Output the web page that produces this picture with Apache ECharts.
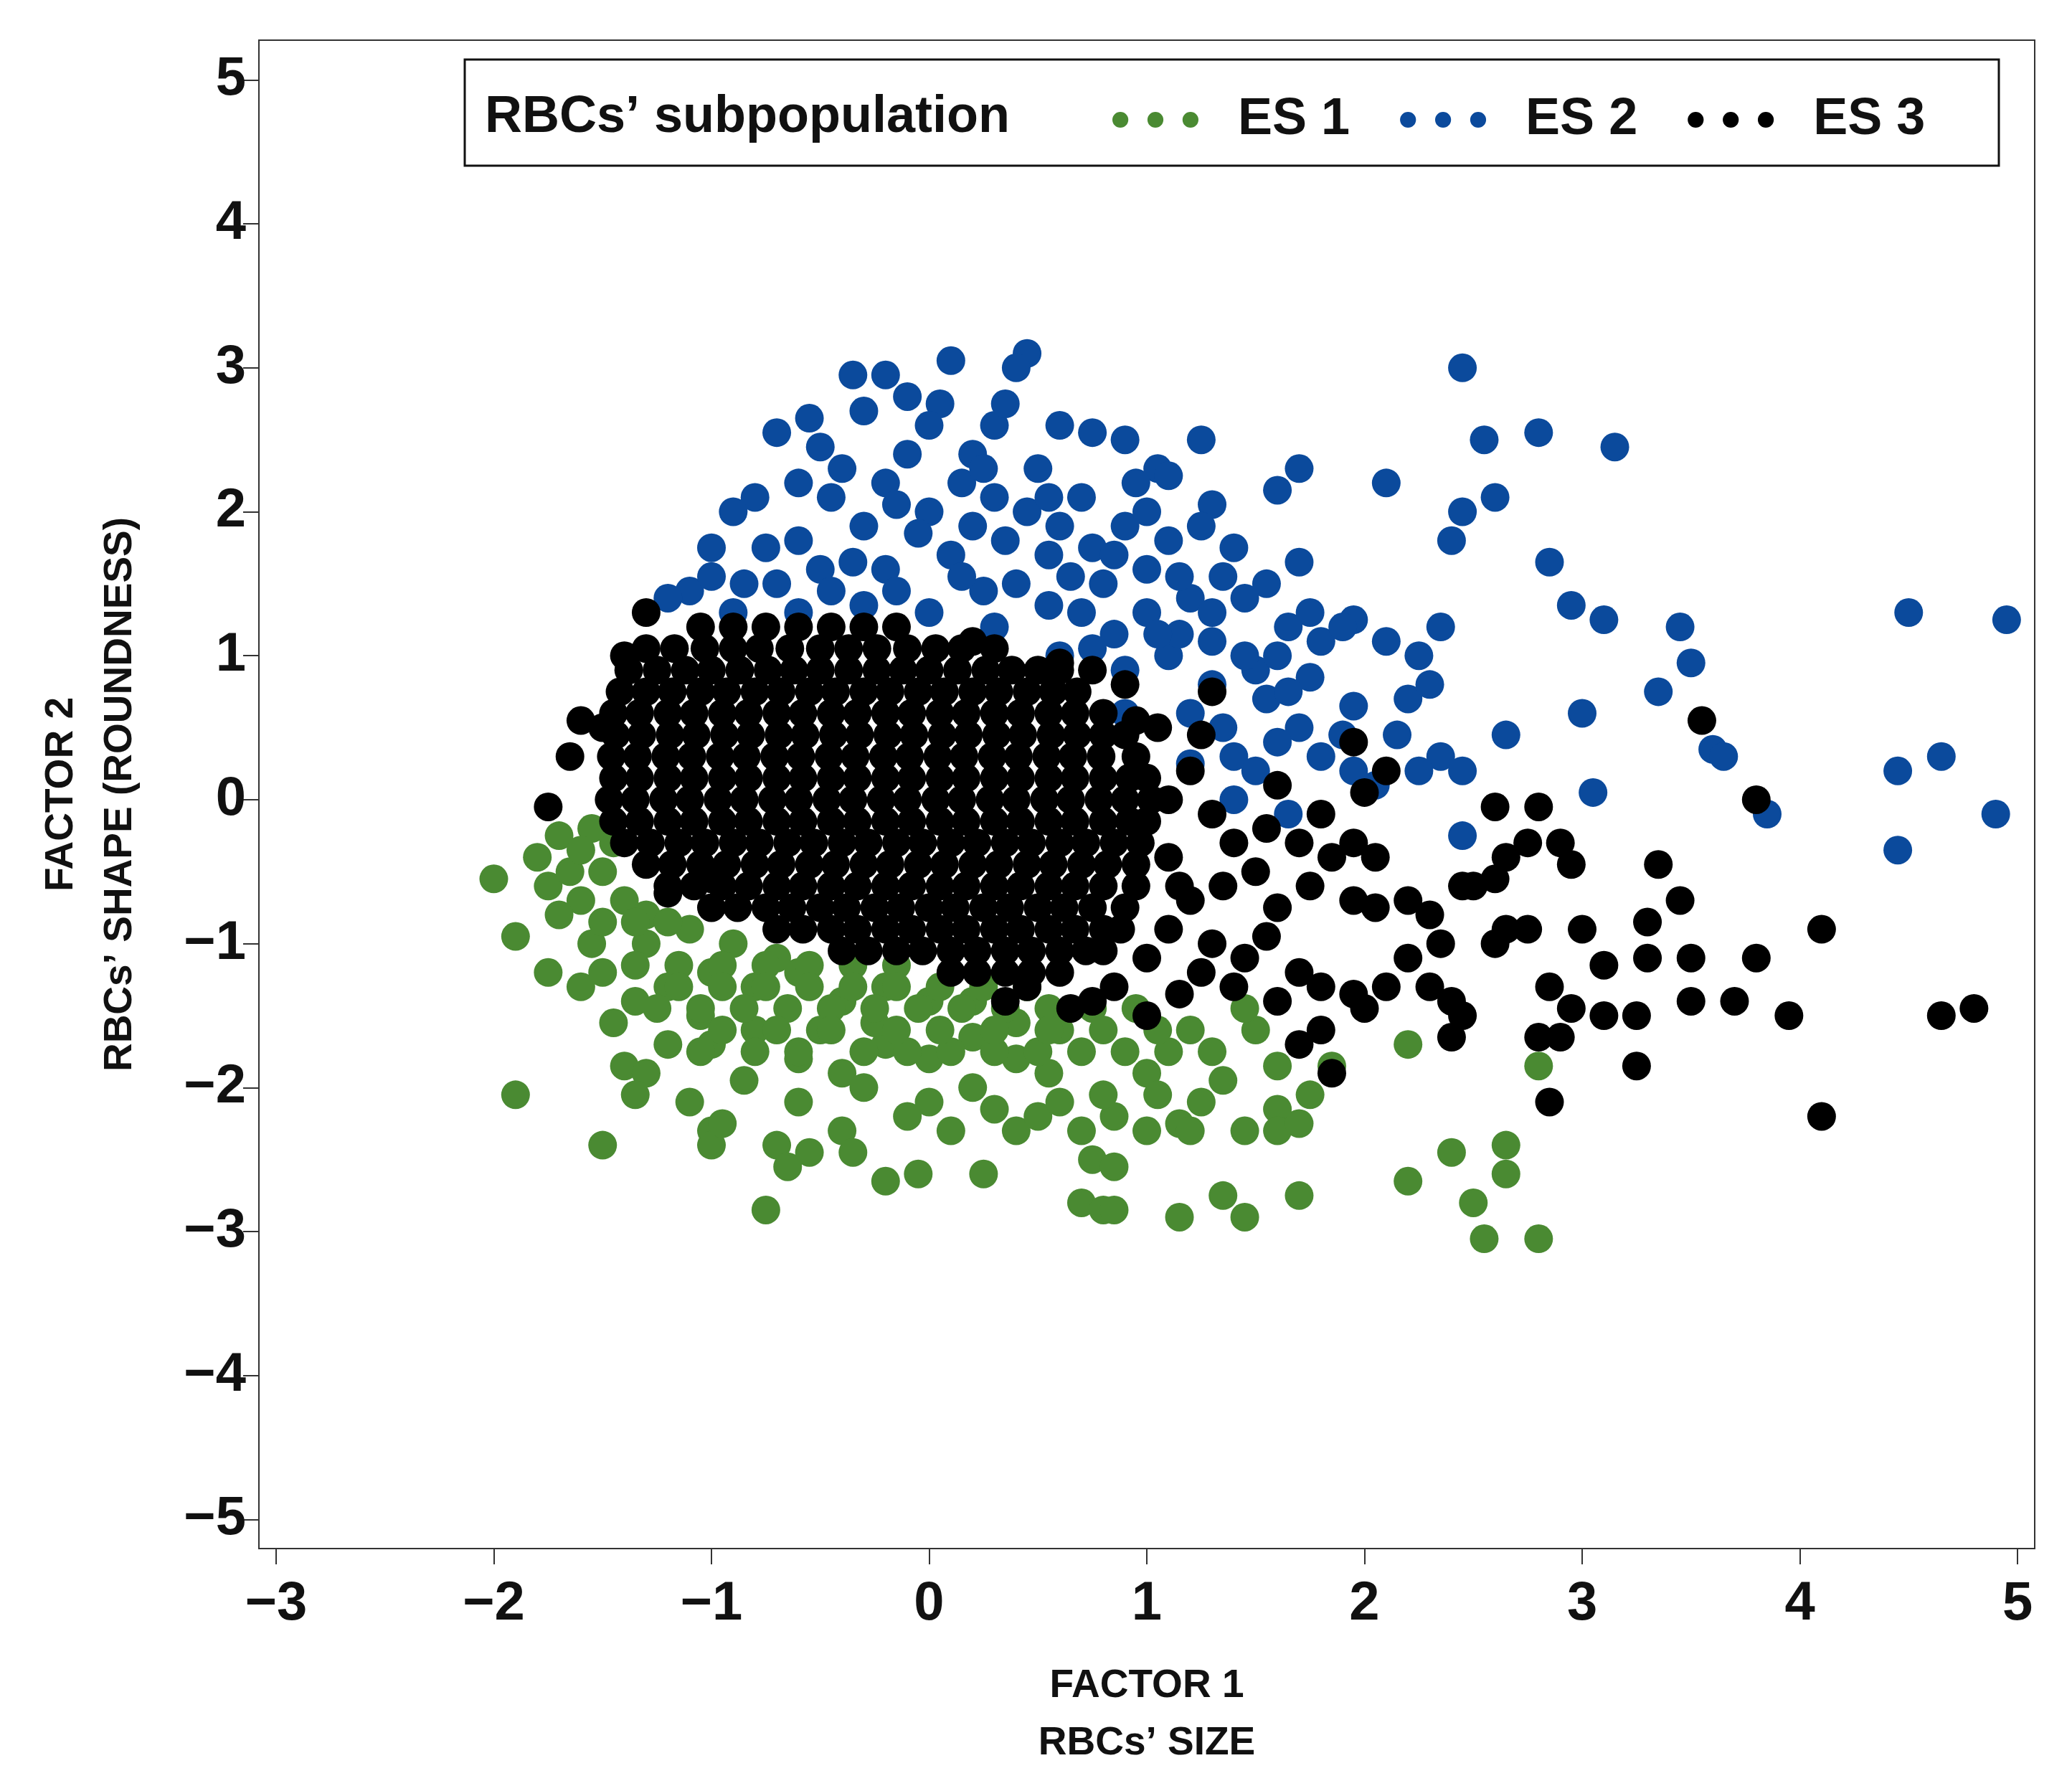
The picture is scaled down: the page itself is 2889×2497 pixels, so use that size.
<!DOCTYPE html>
<html><head><meta charset="utf-8">
<script src="https://cdn.jsdelivr.net/npm/echarts@6/dist/echarts.min.js"></script>
<style>html,body{margin:0;padding:0;background:#fff}#c{width:2889px;height:2497px}</style>
</head><body><div id="c"></div>
<script>
const xTicks = [-3,-2,-1,0,1,2,3,4,5];
const yTicks = [-5,-4,-3,-2,-1,0,1,2,3,4,5];
const seriesNames = ['ES 1','ES 2','ES 3'];

const es2Points = [[2.45,3.0],[2.55,2.5],[2.8,2.55],[3.15,2.45],[2.1,2.2],[2.6,2.1],[2.45,2.0],[2.4,1.8],[2.85,1.65],[2.95,1.35],[3.1,1.25],[3.45,1.2],[4.5,1.3],[4.95,1.25],[3.5,0.95],[3.35,0.75],[3.0,0.6],[2.65,0.45],[3.6,0.35],[3.65,0.3],[4.65,0.3],[4.45,0.2],[3.85,-0.1],[4.9,-0.1],[4.45,-0.35],[3.05,0.05],[2.45,-0.25],[2.35,0.3],[2.45,0.2],[2.2,0.7],[2.3,0.8],[2.25,1.0],[2.1,1.1],[2.35,1.2],[1.95,1.25],[1.75,1.3],[1.8,1.1],[1.65,1.2],[1.55,1.5],[1.7,1.65],[1.4,1.75],[1.3,2.05],[1.6,2.15],[1.7,2.3],[1.25,1.9],[1.25,2.5],[0.45,3.1],[0.4,3.0],[0.1,3.05],[-0.2,2.95],[-0.35,2.95],[-0.1,2.8],[-0.7,2.55],[0.05,2.75],[0.3,2.6],[0.6,2.6],[0.75,2.55],[0.9,2.5],[1.05,2.3],[1.1,2.25],[-0.3,2.7],[-0.5,2.45],[-0.6,2.2],[-0.8,2.1],[-0.9,2.0],[-1.0,1.75],[-1.1,1.45],[-1.2,1.4],[-0.85,1.5],[-0.4,2.3],[-0.2,2.2],[0.0,2.6],[0.2,2.4],[0.5,2.3],[0.7,2.1],[0.9,1.9],[1.1,1.8],[1.0,1.6],[0.8,1.5],[0.6,1.9],[0.3,2.1],[0.0,2.0],[-0.3,1.9],[-0.6,1.8],[-0.7,1.5],[-0.5,1.6],[-0.2,1.6],[0.1,1.7],[0.4,1.5],[0.7,1.3],[1.0,1.3],[1.2,1.4],[1.3,1.1],[1.5,0.9],[1.55,0.7],[1.7,0.5],[1.8,0.3],[1.9,0.45],[1.95,0.2],[2.05,0.1],[1.6,0.4],[1.4,0.3],[1.3,0.8],[1.2,0.6],[1.1,1.0],[0.9,0.9],[0.9,0.6],[0.6,1.0],[0.3,1.2],[0.0,1.3],[-0.3,1.35],[-0.6,1.3],[-0.9,1.3],[1.45,1.4],[1.9,1.2],[2.15,0.45],[2.25,0.2],[1.0,2.0],[1.35,1.55],[0.55,1.7],[0.2,1.9],[-0.1,2.4],[-0.45,2.1],[1.4,0.0],[1.65,-0.1],[1.2,0.25],[0.15,2.2],[0.45,2.0],[0.75,1.75],[-0.15,1.45],[0.25,1.45],[0.55,1.35],[0.85,1.15],[1.15,1.15],[-0.45,1.45],[-1.0,1.55],[0.35,2.75],[-0.55,2.65],[0.95,2.2],[1.45,1.0],[1.75,0.85],[1.95,0.65],[0.25,2.3],[0.55,2.1],[0.85,1.7],[0.65,1.55],[0.35,1.8],[-0.05,1.85],[-0.35,1.65],[-0.75,1.75],[-0.15,2.05],[0.15,1.55],[1.15,1.55],[1.3,1.3],[1.05,1.15],[0.75,1.05],[1.6,1.0],[1.65,0.75],[1.35,0.5],[1.5,0.2]];

const es3Rows = [
 [1.2,[-1.05,-0.9,-0.75,-0.6,-0.45,-0.3,-0.15]],
 [1.05,[-1.3,-1.17,-1.03,-0.9,-0.78,-0.64,-0.5,-0.37,-0.24,-0.1,0.03,0.15,0.3]],
 [0.9,[-1.38,-1.25,-1.12,-1.0,-0.87,-0.74,-0.62,-0.5,-0.37,-0.24,-0.12,0.0,0.13,0.26,0.38,0.5,0.6]],
 [0.75,[-1.42,-1.3,-1.18,-1.05,-0.93,-0.8,-0.68,-0.55,-0.43,-0.3,-0.18,-0.05,0.07,0.2,0.32,0.45,0.57,0.68]],
 [0.6,[-1.45,-1.33,-1.2,-1.08,-0.95,-0.83,-0.7,-0.58,-0.45,-0.33,-0.2,-0.08,0.05,0.17,0.3,0.42,0.55,0.67,0.8]],
 [0.45,[-1.44,-1.32,-1.19,-1.07,-0.94,-0.82,-0.69,-0.57,-0.44,-0.32,-0.19,-0.07,0.06,0.18,0.31,0.43,0.56,0.68,0.8,0.9]],
 [0.3,[-1.46,-1.34,-1.21,-1.09,-0.96,-0.84,-0.71,-0.59,-0.46,-0.34,-0.21,-0.09,0.04,0.16,0.29,0.41,0.54,0.66,0.79,0.95]],
 [0.15,[-1.45,-1.33,-1.2,-1.08,-0.95,-0.83,-0.7,-0.58,-0.45,-0.33,-0.2,-0.08,0.05,0.17,0.3,0.42,0.55,0.67,0.8,0.92,1.0]],
 [0.0,[-1.47,-1.35,-1.22,-1.1,-0.97,-0.85,-0.72,-0.6,-0.47,-0.35,-0.22,-0.1,0.03,0.15,0.28,0.4,0.53,0.65,0.78,0.9,1.02]],
 [-0.15,[-1.45,-1.33,-1.2,-1.08,-0.95,-0.83,-0.7,-0.58,-0.45,-0.33,-0.2,-0.08,0.05,0.17,0.3,0.42,0.55,0.67,0.8,0.92,1.0]],
 [-0.3,[-1.4,-1.28,-1.15,-1.03,-0.9,-0.78,-0.65,-0.53,-0.4,-0.28,-0.15,-0.03,0.1,0.22,0.35,0.47,0.6,0.72,0.85,0.97]],
 [-0.45,[-1.3,-1.18,-1.05,-0.93,-0.8,-0.68,-0.55,-0.43,-0.3,-0.18,-0.05,0.07,0.2,0.32,0.45,0.57,0.7,0.82,0.95]],
 [-0.6,[-1.2,-1.08,-0.95,-0.83,-0.7,-0.58,-0.45,-0.33,-0.2,-0.08,0.05,0.17,0.3,0.42,0.55,0.67,0.8,0.95]],
 [-0.75,[-1.0,-0.88,-0.75,-0.63,-0.5,-0.38,-0.25,-0.13,0.0,0.12,0.25,0.37,0.5,0.62,0.75,0.9]],
 [-0.9,[-0.7,-0.58,-0.45,-0.33,-0.2,-0.08,0.05,0.17,0.3,0.42,0.55,0.67,0.8,0.88]],
 [-1.05,[-0.4,-0.28,-0.15,-0.03,0.1,0.22,0.35,0.47,0.6,0.72,0.8]],
 [-1.2,[0.1,0.22,0.35,0.47,0.6]]
];
const es3Points = [[-1.3,1.3],[-1.4,1.0],[-1.6,0.55],[-1.65,0.3],[-1.75,-0.05],[-1.5,0.5],[-1.2,-0.65],[-1.0,-0.55],[0.2,1.1],[0.6,0.95],[0.95,0.55],[1.05,0.5],[1.3,0.75],[1.2,0.2],[1.1,0.0],[1.3,-0.1],[1.4,-0.3],[1.35,-0.6],[1.5,-0.5],[1.55,-0.2],[1.6,0.1],[1.7,-0.3],[1.8,-0.1],[1.85,-0.4],[1.95,-0.3],[1.95,0.4],[2.0,0.05],[2.05,-0.4],[2.1,0.2],[1.6,-0.75],[1.75,-0.6],[1.95,-0.7],[2.05,-0.75],[2.2,-0.7],[2.3,-0.8],[2.2,-1.1],[2.1,-1.3],[2.0,-1.45],[2.3,-1.3],[2.35,-1.0],[2.45,-0.6],[2.5,-0.6],[2.4,-1.4],[2.45,-1.5],[2.4,-1.65],[2.6,-1.0],[2.65,-0.9],[2.6,-0.55],[2.65,-0.4],[2.75,-0.3],[2.8,-0.05],[2.6,-0.05],[2.9,-0.3],[2.95,-0.45],[2.75,-0.9],[2.85,-1.3],[2.8,-1.65],[2.95,-1.45],[2.9,-1.65],[2.85,-2.1],[3.0,-0.9],[3.1,-1.15],[3.1,-1.5],[3.25,-1.5],[3.25,-1.85],[3.3,-1.1],[3.3,-0.85],[3.35,-0.45],[3.45,-0.7],[3.5,-1.1],[3.5,-1.4],[3.7,-1.4],[3.8,-1.1],[3.95,-1.5],[3.8,0.0],[3.55,0.55],[4.1,-0.9],[4.1,-2.2],[4.65,-1.5],[4.8,-1.45],[1.8,-1.6],[1.7,-1.7],[1.85,-1.9],[1.95,-1.35],[1.6,-1.4],[1.4,-1.3],[1.25,-1.2],[1.15,-1.35],[1.0,-1.5],[0.85,-1.3],[0.75,-1.4],[1.2,-0.7],[1.1,-0.9],[1.3,-1.0],[1.0,-1.1],[0.65,-1.45],[0.45,-1.3],[0.35,-1.4],[1.45,-1.1],[1.55,-0.95],[1.7,-1.2],[1.8,-1.3],[1.1,-0.4],[1.15,-0.6],[1.25,0.45],[0.9,0.8],[0.75,0.9]];

const es1Rows = [
 [-0.85,[-1.5,-1.35,-1.2]],
 [-1.15,[-1.35,-1.15,-0.95,-0.75,-0.55,-0.35,-0.15]],
 [-1.45,[-1.25,-1.05,-0.85,-0.65,-0.45,-0.25,-0.05,0.15,0.35,0.55,0.75,0.95]],
 [-1.75,[-1.05,-0.8,-0.6,-0.3,-0.1,0.1,0.3,0.5,0.7,1.1]],
 [-1.3,[-1.15,-0.95,-0.75,-0.55,-0.35,-0.15,0.05,0.25,0.45]],
 [-1.6,[-0.95,-0.7,-0.45,-0.15,0.05,0.3,0.55,0.8,1.05]]
];
const es1Points = [[-2.0,-0.55],[-1.8,-0.4],[-1.75,-0.6],[-1.9,-0.95],[-1.7,-0.25],[-1.65,-0.5],[-1.6,-0.7],[-1.7,-0.8],[-1.55,-1.0],[-1.75,-1.2],[-1.6,-1.3],[-1.5,-1.2],[-1.45,-1.55],[-1.35,-1.4],[-1.4,-1.85],[-1.3,-1.9],[-1.35,-2.05],[-1.2,-1.7],[-1.1,-2.1],[-1.9,-2.05],[-1.5,-2.4],[-1.0,-2.3],[-1.0,-2.4],[-0.95,-2.25],[-0.7,-2.4],[-0.65,-2.55],[-0.75,-2.85],[-0.4,-2.3],[-0.35,-2.45],[-0.2,-2.65],[-0.05,-2.6],[0.1,-2.3],[0.25,-2.6],[0.0,-2.1],[0.2,-2.0],[0.4,-2.3],[0.5,-2.2],[0.6,-2.1],[0.7,-2.3],[0.85,-2.2],[0.75,-2.5],[0.85,-2.55],[0.7,-2.8],[0.8,-2.85],[0.85,-2.85],[1.15,-2.9],[1.35,-2.75],[1.45,-2.9],[1.7,-2.75],[1.0,-2.3],[1.15,-2.25],[1.25,-2.1],[1.45,-2.3],[1.6,-2.15],[1.6,-2.3],[1.7,-2.25],[1.75,-2.05],[1.6,-1.85],[1.5,-1.6],[1.45,-1.45],[1.3,-1.75],[1.2,-1.6],[1.0,-1.9],[0.9,-1.75],[0.6,-1.6],[0.4,-1.8],[0.2,-1.65],[0.0,-1.8],[-0.2,-1.7],[-0.4,-1.9],[-0.6,-1.8],[-0.8,-1.6],[-1.0,-1.7],[-1.2,-1.3],[-1.0,-1.2],[-0.8,-1.3],[-0.6,-1.2],[-0.4,-1.4],[-0.2,-1.3],[0.0,-1.4],[0.2,-1.4],[0.4,-1.55],[-1.3,-1.0],[-1.1,-0.9],[-0.9,-1.0],[-0.7,-1.1],[-1.4,-0.7],[-1.45,-0.3],[-1.5,-0.5],[-1.3,-0.8],[-0.5,-1.6],[-0.3,-2.0],[-0.1,-2.2],[0.3,-2.15],[-0.6,-2.1],[-0.85,-1.95],[2.2,-1.7],[2.2,-2.65],[2.4,-2.45],[2.5,-2.8],[2.55,-3.05],[2.65,-2.4],[2.65,-2.6],[2.8,-3.05],[2.8,-1.85],[1.85,-1.85],[1.2,-2.3],[1.05,-2.05],[-0.55,-2.45],[-1.05,-1.5],[-0.25,-1.55],[0.55,-1.9],[0.8,-2.05],[1.35,-1.95],[-1.55,-0.2],[-1.6,-0.35]];

function rowsToPoints(rows){const out=[];rows.forEach(r=>r[1].forEach(x=>out.push([x,r[0]])));return out;}
const es1Data = es1Points.concat(rowsToPoints(es1Rows));
const es3Data = es3Points.concat(rowsToPoints(es3Rows));

const fmt = v => v < 0 ? '\u2212' + Math.abs(v) : String(v);
const font = 'Liberation Sans';
const dots = 'path://M0,5a5,5 0 1,0 10,0a5,5 0 1,0 -10,0M22,5a5,5 0 1,0 10,0a5,5 0 1,0 -10,0M44,5a5,5 0 1,0 10,0a5,5 0 1,0 -10,0';
const chart = echarts.init(document.getElementById('c'));
const sym = 40;
chart.setOption({
  animation:false,
  grid:{left:361,right:52,top:56,bottom:338,show:true,borderColor:'#333',borderWidth:2,outerBoundsMode:'none',containLabel:false},
  xAxis:{type:'value',min:-3.079,max:5.079,
    name:'FACTOR 1\nRBCs\u2019 SIZE',nameLocation:'middle',nameGap:152,
    nameTextStyle:{fontFamily:font,fontWeight:'bold',fontSize:55,lineHeight:80,color:'#111'},
    splitLine:{show:false},
    axisLine:{onZero:false,lineStyle:{color:'#333',width:2}},
    axisTick:{show:true,customValues:xTicks,length:22,lineStyle:{color:'#333',width:2}},
    axisLabel:{customValues:xTicks,formatter:fmt,margin:40,fontFamily:font,fontWeight:'bold',fontSize:76,color:'#111'}},
  yAxis:{type:'value',min:-5.202,max:5.276,
    name:'FACTOR 2\nRBCs\u2019 SHAPE (ROUNDNESS)',nameLocation:'middle',nameGap:152,
    nameTextStyle:{fontFamily:font,fontWeight:'bold',fontSize:55,lineHeight:82,color:'#111'},
    splitLine:{show:false},
    axisLine:{show:true,onZero:false,lineStyle:{color:'#333',width:2}},
    axisTick:{show:true,customValues:yTicks,length:22,lineStyle:{color:'#333',width:2}},
    axisLabel:{customValues:yTicks,formatter:fmt,margin:18,fontFamily:font,fontWeight:'bold',fontSize:76,color:'#111'}},
  legend:{data:seriesNames,left:1546,top:126,icon:dots,itemWidth:120,itemHeight:24,itemGap:70,
    textStyle:{fontFamily:font,fontWeight:'bold',fontSize:72,color:'#111',padding:[0,0,0,50]}},
  graphic:[
    {type:'rect',shape:{x:648,y:83,width:2139,height:148},style:{fill:'none',stroke:'#111',lineWidth:3}},
    {type:'text',left:676,top:128,style:{text:'RBCs\u2019 subpopulation',font:'bold 72px "Liberation Sans"',fill:'#111'}}
  ],
  series:[
    {name:'ES 1',type:'scatter',data:es1Data,symbolSize:sym,itemStyle:{color:'#4a8a32',opacity:1}},
    {name:'ES 2',type:'scatter',data:es2Points,symbolSize:sym,itemStyle:{color:'#0b4a9c',opacity:1}},
    {name:'ES 3',type:'scatter',data:es3Data,symbolSize:sym,itemStyle:{color:'#000',opacity:1}}
  ]
});
</script></body></html>
